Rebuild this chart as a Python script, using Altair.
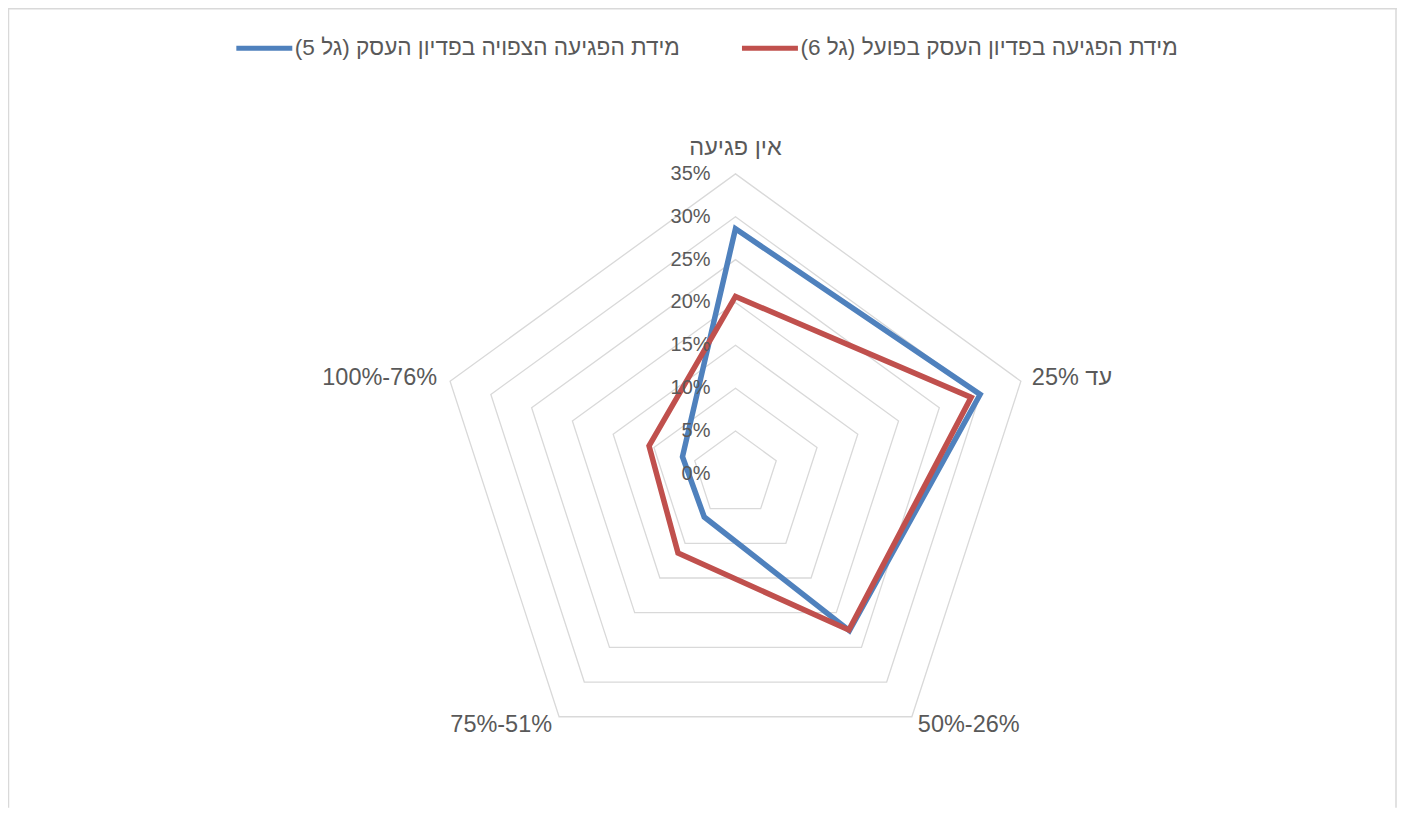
import altair as alt
import pandas as pd

# ---------------- data ----------------
categories = ["אין פגיעה", "עד 25%", "50%-26%", "75%-51%", "100%-76%"]
series_names = [
    "מידת הפגיעה הצפויה בפדיון העסק (גל 5)\u200F",
    "מידת הפגיעה בפדיון העסק בפועל (גל 6)\u200F",
]
expected_w5 = [28.6, 30.0, 22.6, 6.2, 6.5]
actual_w6 = [20.7, 28.9, 22.5, 11.4, 10.6]
grid_levels = [5, 10, 15, 20, 25, 30, 35]
tick_levels = [0, 5, 10, 15, 20, 25, 30, 35]
tick_labels = ["0%", "5%", "10%", "15%", "20%", "25%", "30%", "35%"]
series_colors = ["#4F81BD", "#C0504D"]

# ---------------- tables ----------------
n = len(categories)
rows = []
for name, vals in zip(series_names, [expected_w5, actual_w6]):
    for k in range(n + 2):
        rows.append({"series": name, "idx": k % n, "ord": k, "value": vals[k % n]})
series_df = pd.DataFrame(rows)

grid_df = pd.DataFrame(
    [{"level": lv, "idx": k % n, "ord": k} for lv in grid_levels for k in range(n + 2)]
)
ticks_df = pd.DataFrame({"level": tick_levels, "label": tick_labels})
cat_df = pd.DataFrame({"idx": list(range(n)), "name": categories, "r": [max(grid_levels)] * n})

W, H = 1390, 800
PX = 8.58
CX, CY = 728, 466
xdom = [-CX / PX, (W - CX) / PX]
ydom = [-(H - CY) / PX, CY / PX]

xs = alt.Scale(domain=xdom, nice=False, zero=False)
ys = alt.Scale(domain=ydom, nice=False, zero=False)
X = alt.X("x:Q", scale=xs, axis=None)
Y = alt.Y("y:Q", scale=ys, axis=None)

ang = "datum.idx * 2 * PI / %d" % n
TXT = "#595959"
FONT = "Liberation Sans"

grid = (
    alt.Chart(grid_df)
    .transform_calculate(x="datum.level * sin(%s)" % ang, y="datum.level * cos(%s)" % ang)
    .mark_line(color="#D9D9D9", strokeWidth=1.3)
    .encode(x=X, y=Y, detail="level:N", order="ord:Q")
)

lines = (
    alt.Chart(series_df)
    .transform_calculate(x="datum.value * sin(%s)" % ang, y="datum.value * cos(%s)" % ang)
    .mark_line(strokeWidth=5.5, strokeJoin="miter")
    .encode(
        x=X,
        y=Y,
        order="ord:Q",
        color=alt.Color(
            "series:N",
            scale=alt.Scale(domain=series_names, range=series_colors),
            sort=series_names,
            legend=alt.Legend(
                orient="none",
                legendX=226,
                legendY=9,
                direction="horizontal",
                title=None,
                symbolType="stroke",
                symbolStrokeWidth=5,
                symbolSize=3136,
                labelFontSize=22.6,
                labelFont=FONT,
                labelColor=TXT,
                labelLimit=700,
                labelOffset=0,
                columnPadding=51,
                padding=0,
            ),
        ),
    )
)

ticks = (
    alt.Chart(ticks_df)
    .transform_calculate(x="0", y="datum.level")
    .mark_text(align="right", baseline="middle", dx=-25, fontSize=20, font=FONT, color=TXT)
    .encode(x=X, y=Y, text="label:N")
)


def cat_layer(ids, align, dx, dy):
    return (
        alt.Chart(cat_df)
        .transform_filter(alt.FieldOneOfPredicate(field="idx", oneOf=ids))
        .transform_calculate(x="datum.r * sin(%s)" % ang, y="datum.r * cos(%s)" % ang)
        .mark_text(align=align, baseline="middle", dx=dx, dy=dy, fontSize=23.5, font=FONT, color=TXT)
        .encode(x=X, y=Y, text="name:N")
    )


cats = alt.layer(
    cat_layer([0], "center", 0, -26),
    cat_layer([1], "left", 11, -3),
    cat_layer([2], "left", 6, 8),
    cat_layer([3], "right", -7, 8),
    cat_layer([4], "right", -13, -3),
)

frame_df = pd.DataFrame({"k": [0]})
frame = alt.layer(
    alt.Chart(frame_df).mark_rule(color="#D9D9D9", strokeWidth=1.5).encode(x=alt.value(0), x2=alt.value(W), y=alt.value(0.5)),
    alt.Chart(frame_df).mark_rule(color="#D9D9D9", strokeWidth=1.5).encode(x=alt.value(0.5), y=alt.value(0), y2=alt.value(H)),
    alt.Chart(frame_df).mark_rule(color="#D9D9D9", strokeWidth=1.5).encode(x=alt.value(W - 1), y=alt.value(0), y2=alt.value(H)),
)

chart = (
    alt.layer(frame, grid, lines, ticks, cats)
    .properties(width=W, height=H, padding=0, autosize="none", background="white")
    .configure_view(stroke=None)
)

chart.save("out.html", embed_options={"renderer": "svg", "actions": False})
